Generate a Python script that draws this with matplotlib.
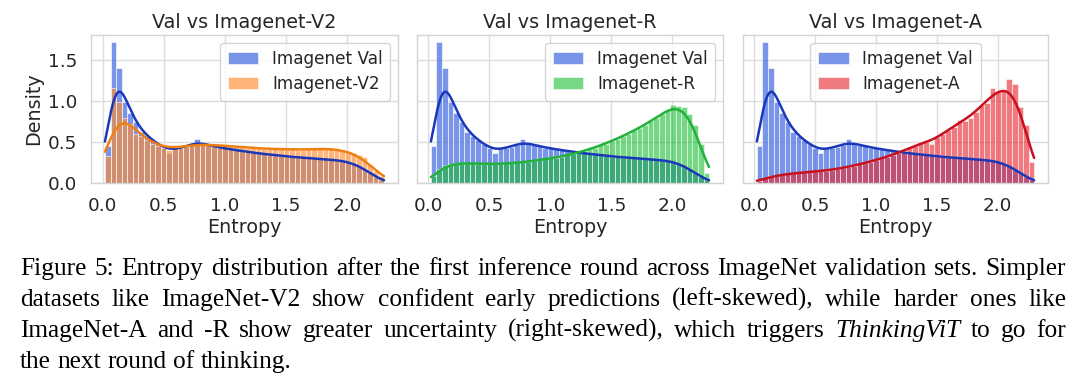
import numpy as np
import matplotlib
matplotlib.use('Agg')
import matplotlib.pyplot as plt
import seaborn as sns

# histogram densities, 50 bins between 0.02 and 2.30
val = [0.45, 1.71, 1.40, 0.98, 0.85, 0.74, 0.62, 0.57, 0.52, 0.47,
       0.43, 0.36, 0.42, 0.43, 0.44, 0.46, 0.53, 0.48, 0.46, 0.45,
       0.43, 0.42, 0.41, 0.40, 0.39, 0.38, 0.37, 0.36, 0.35, 0.35,
       0.34, 0.33, 0.32, 0.32, 0.31, 0.31, 0.30, 0.30, 0.29, 0.29,
       0.28, 0.28, 0.27, 0.26, 0.24, 0.21, 0.17, 0.12, 0.07, 0.04]
v2 = [0.33, 1.15, 0.99, 0.79, 0.72, 0.60, 0.57, 0.52, 0.48, 0.45,
      0.42, 0.40, 0.43, 0.44, 0.45, 0.46, 0.47, 0.47, 0.47, 0.46,
      0.46, 0.45, 0.45, 0.44, 0.44, 0.43, 0.43, 0.42, 0.42, 0.41,
      0.41, 0.41, 0.42, 0.41, 0.40, 0.40, 0.41, 0.41, 0.42, 0.42,
      0.42, 0.41, 0.40, 0.39, 0.37, 0.34, 0.32, 0.22, 0.14, 0.08]
r = [0.08, 0.17, 0.22, 0.23, 0.24, 0.24, 0.24, 0.24, 0.24, 0.23,
     0.23, 0.23, 0.23, 0.24, 0.24, 0.25, 0.25, 0.26, 0.27, 0.28,
     0.29, 0.30, 0.31, 0.32, 0.34, 0.35, 0.37, 0.39, 0.41, 0.43,
     0.46, 0.48, 0.51, 0.54, 0.57, 0.60, 0.64, 0.67, 0.71, 0.75,
     0.79, 0.84, 0.89, 0.95, 0.94, 0.93, 0.84, 0.70, 0.48, 0.12]
a = [0.03, 0.06, 0.08, 0.09, 0.10, 0.11, 0.12, 0.12, 0.13, 0.13,
     0.14, 0.15, 0.15, 0.16, 0.17, 0.18, 0.20, 0.21, 0.23, 0.24,
     0.26, 0.28, 0.30, 0.32, 0.34, 0.37, 0.39, 0.42, 0.45, 0.50,
     0.50, 0.47, 0.56, 0.60, 0.64, 0.68, 0.77, 0.75, 0.79, 0.86,
     0.95, 0.97, 1.15, 1.11, 1.13, 1.26, 1.20, 0.93, 0.71, 0.25]

entropy_min, entropy_max = 0.02, 2.30
titles = ['Val vs Imagenet-V2', 'Val vs Imagenet-R', 'Val vs Imagenet-A']
labels = ['Imagenet-V2', 'Imagenet-R', 'Imagenet-A']
others = [v2, r, a]

caption = [
    [('Figure 5: Entropy distribution after the first inference round across ImageNet validation sets. Simpler', 'normal')],
    [('datasets like ImageNet-V2 show confident early predictions (left-skewed), while harder ones like', 'normal')],
    [('ImageNet-A and -R show greater uncertainty (right-skewed), which triggers', 'normal'),
     ('ThinkingViT', 'italic'), ('to go for', 'normal')],
    [('the next round of thinking.', 'normal')],
]

val_col = dict(bar=(0.25, 0.41, 0.88), line='#1a38b8', alpha=0.7, bw=0.07)
styles = [dict(bar=(1.0, 0.55, 0.2), line='#ee7f12', alpha=0.65, bw=0.10),
          dict(bar=(0.08, 0.73, 0.18), line='#22b13a', alpha=0.58, bw=0.08),
          dict(bar=(0.9, 0.16, 0.2), line='#c8101e', alpha=0.62, bw=0.085)]

edges = np.linspace(entropy_min, entropy_max, len(val) + 1)
width = edges[1] - edges[0]
centers = edges[:-1] + width / 2


def kde(heights, bw):
    # gaussian smoothing of the binned density, cut at the data range
    xs = np.linspace(edges[0], edges[-1], 400)
    w = np.asarray(heights) * width
    k = np.exp(-0.5 * ((xs[:, None] - centers[None, :]) / bw) ** 2)
    return xs, (k * w[None, :]).sum(1) / (bw * np.sqrt(2 * np.pi))


def plot_hist(ax, heights, st, label):
    ax.bar(edges[:-1], heights, width=width, align='edge', color=st['bar'],
           alpha=st['alpha'], edgecolor='white', linewidth=0.6, label=label)
    xs, ys = kde(heights, st['bw'])
    ax.plot(xs, ys, color=st['line'], lw=1.8)


sns.set_theme(style='whitegrid')
plt.rcParams['font.family'] = ['DejaVu Sans']
plt.rcParams['axes.edgecolor'] = '#d4d4d4'
plt.rcParams['grid.color'] = '#dcdcdc'

fig = plt.figure(figsize=(10.8, 3.87), dpi=100)
lefts = [91, 417, 743]
wids = [307, 306, 305]
axes = []
for i in range(3):
    ax = fig.add_axes([lefts[i] / 1080, 204 / 387, wids[i] / 1080, 148 / 387],
                      sharey=axes[0] if axes else None)
    axes.append(ax)

for i, ax in enumerate(axes):
    plot_hist(ax, val, val_col, 'Imagenet Val')
    plot_hist(ax, others[i], styles[i], labels[i])
    ax.set_title(titles[i], fontsize=13.8, color='#262626', pad=5)
    ax.set_xlabel('Entropy', fontsize=13.8, labelpad=2)
    ax.set_xticks([0.0, 0.5, 1.0, 1.5, 2.0])
    ax.tick_params(labelsize=13.2, pad=4)
    ax.margins(x=0.05)
    ax.set_yticks([0.0, 0.5, 1.0, 1.5])
    if i > 0:
        ax.tick_params(labelleft=False)
    for sp in ax.spines.values():
        sp.set_linewidth(1.0)
    loc = 'upper center' if i == 2 else 'upper right'
    ax.legend(loc=loc, fontsize=12.2, frameon=True, handlelength=1.8,
              borderpad=0.45, labelspacing=0.4, borderaxespad=0.45)
axes[0].set_ylabel('Density', fontsize=13.8, labelpad=3)
axes[0].set_ylim(0, 1.80)


def draw_caption(lines, x0=20, x1=1066, y0=275, step=31):
    renderer = fig.canvas.get_renderer()
    # font size chosen so the first line fills the text width
    probe = fig.text(0, 0, lines[0][0][0], fontsize=16, family='Liberation Serif')
    size = 16 * (x1 - x0) * 0.985 / probe.get_window_extent(renderer).width
    probe.remove()
    for n, parts in enumerate(lines):
        y = 1 - (y0 + n * step) / 387
        words = []
        for txt, sty in parts:
            for wd in txt.split(' '):
                words.append((wd, sty))
        texts = [fig.text(0, y, wd, fontsize=size, family='Liberation Serif',
                          style=sty, va='baseline', color='black') for wd, sty in words]
        widths = [t.get_window_extent(renderer).width for t in texts]
        if n < len(lines) - 1:
            gap = (x1 - x0 - sum(widths)) / (len(words) - 1)
        else:
            gap = size * 0.25 * 100 / 72
        x = x0
        for t, wd in zip(texts, widths):
            t.set_x(x / 1080)
            x += wd + gap


draw_caption(caption)
plt.savefig('out.png', dpi=100)
